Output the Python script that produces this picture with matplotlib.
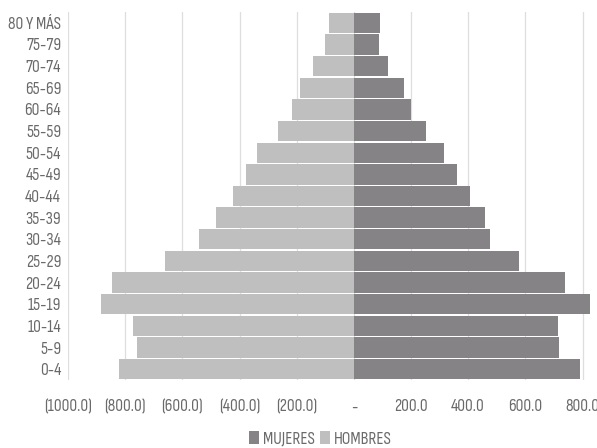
import matplotlib.pyplot as plt
import numpy as np

plt.rcParams['font.family'] = ['Sofia Sans Condensed', 'Roboto Condensed', 'DejaVu Sans']

grupos = ["0-4", "5-9", "10-14", "15-19", "20-24", "25-29", "30-34", "35-39",
          "40-44", "45-49", "50-54", "55-59", "60-64", "65-69", "70-74",
          "75-79", "80 Y MÁS"]
hombres = [822, 758, 771, 886, 845, 662, 542, 481, 424, 377, 340, 267, 216, 189, 142, 100, 88]
mujeres = [790, 718, 713, 825, 739, 576, 475, 457, 406, 362, 316, 252, 201, 174, 120, 89, 93]
ticks = [-1000, -800, -600, -400, -200, 0, 200, 400, 600, 800]
tick_labels = ["(1000.0)", "(800.0)", "(600.0)", "(400.0)", "(200.0)", "-",
               "200.0", "400.0", "600.0", "800.0"]

fig = plt.figure(figsize=(5.97, 4.48), dpi=100)
ax = fig.add_axes([68 / 597, 1 - 380 / 448, (594 - 68) / 597, 368 / 448])

y = np.arange(len(grupos))
ax.barh(y, mujeres, height=0.94, color="#858385", edgecolor="none", label="MUJERES", zorder=3)
ax.barh(y, [-h for h in hombres], height=0.94, color="#bfbfbf", edgecolor="none", label="HOMBRES", zorder=3)

ax.set_xlim(-1000, 840)
ax.set_ylim(-0.5, len(grupos) - 0.5)
ax.set_yticks(y)
ax.set_yticklabels(grupos)
ax.set_xticks(ticks)
ax.set_xticklabels(tick_labels)
ax.tick_params(axis="both", length=0, colors="#6a6a6a", labelsize=12.5)
ax.tick_params(axis="x", pad=14)
ax.tick_params(axis="y", pad=5)
ax.grid(axis="x", color="#dedede", linewidth=0.9, zorder=0)
for s in ax.spines.values():
    s.set_visible(False)

fig.legend(loc="center", bbox_to_anchor=(320 / 597, 1 - 439 / 448), ncol=2,
           frameon=False, fontsize=12.5, handlelength=0.6, handleheight=0.8,
           handletextpad=0.2, columnspacing=0.3, labelcolor="#6a6a6a")

fig.savefig("out.png", dpi=100)
